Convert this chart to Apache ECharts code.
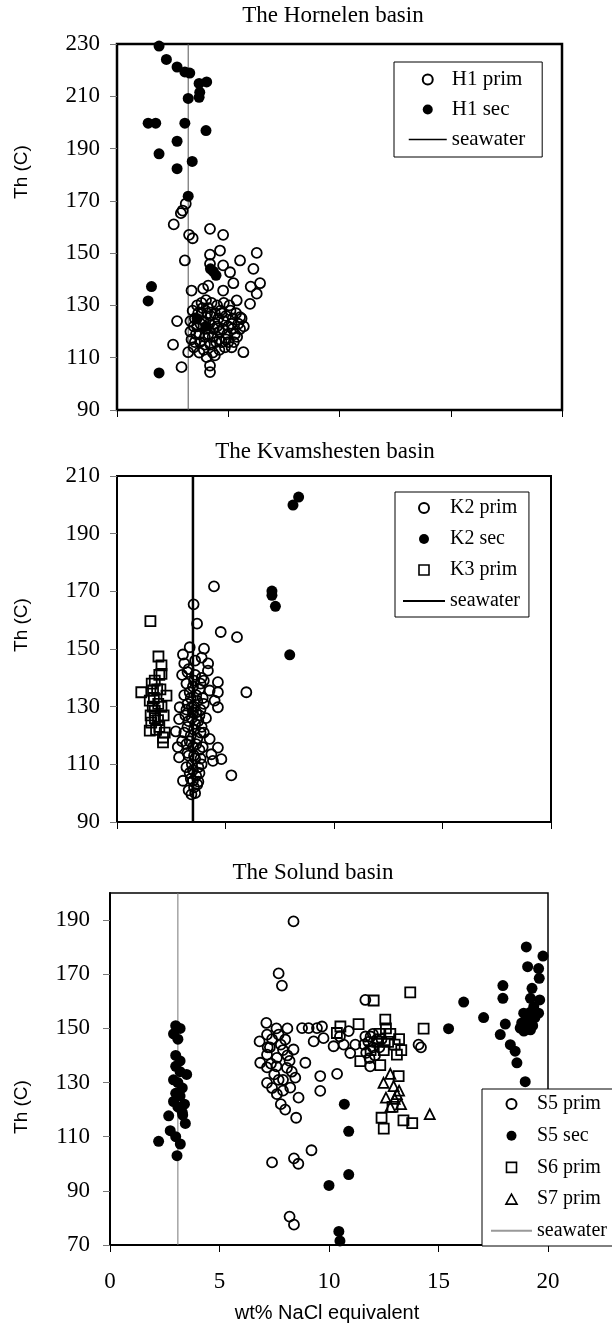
<!DOCTYPE html>
<html><head><meta charset="utf-8">
<script src="https://cdn.jsdelivr.net/npm/echarts@6/dist/echarts.min.js"></script>
<style>html,body{margin:0;padding:0;background:#fff}#c{width:612px;height:1325px}</style>
</head><body><div id="c"></div><script>
const SERIF = '"Liberation Serif","Times New Roman",serif';
const SANS = '"Liberation Sans",Arial,sans-serif';

// ---------- data (wt% NaCl eq, Th in C) ----------
const titles = ['The Hornelen basin', 'The Kvamshesten basin', 'The Solund basin'];
const xAxisName = 'wt% NaCl equivalent';
const yAxisName = 'Th (C)';
const xRange = [0, 20, 5];
const yRangeH = [90, 230, 20];
const yRangeK = [90, 210, 20];
const yRangeS = [70, 200, 20];
const seawaterH = 3.2, seawaterK = 3.5, seawaterS = 3.1;

const h1Prim = [[3.09,168.9],[2.95,166.3],[2.87,165.3],[2.55,161],[4.18,159.3],[4.77,157],[3.24,157],[3.4,155.7],[6.28,150.1],[4.63,151],[4.18,149.4],[3.05,147.2],[5.53,147.2],[6.13,144],[4.77,145.3],[5.08,142.7],[4.18,145.9],[6.43,138.5],[6.01,137.2],[5.23,138.5],[6.28,134.5],[5.98,130.6],[3.35,135.7],[3.87,136.4],[4.1,137.6],[4.77,135.7],[2.7,124],[2.52,115],[2.9,106.4],[5.68,112.1],[4.18,107],[4.18,104.5],[4.03,110.2],[4.4,110.9],[3.2,112.1],[3.73,116],[5.15,114],[5.53,121],[5.53,125.5],[5.38,131.9],
 [3.4,128],[3.5,125],[3.6,122],[3.7,119],[3.8,127],[3.9,124],[4.0,121],[4.1,129],[4.2,126],[4.3,118],[4.4,123],[4.5,130],[4.6,120],[4.7,127],[4.8,124],[4.9,117],[5.0,122],[5.1,128],[5.2,125],[5.3,119],[3.3,120],[3.5,116],[3.9,113],[4.2,115],[4.6,113],[5.0,116],[5.4,118],[3.6,130],[4.0,132],[4.4,127],[4.8,131],[5.2,121],[3.3,124],[4.1,119],[4.5,122],[4.9,126],[3.7,112],[4.3,112],[4.7,116],[5.6,125],[5.7,122],[3.45,114],[3.8,131],
 [3.35,117],[3.55,119],[3.75,123],[3.95,118],[4.15,123],[4.35,121],[4.55,125],[4.75,121],[4.95,119],[5.15,123],[5.35,127],[3.65,127],[3.85,129],[4.25,131],[4.65,128],[5.05,130],[3.95,115],[4.45,116],[4.85,114],[3.45,122],[4.05,127],[4.6,117],[5.25,116],[5.45,123]];
const h1Sec = [[1.89,229.2],[2.22,224.1],[2.7,221.2],[3.05,219.3],[3.27,218.9],[3.69,214.9],[4.03,215.5],[3.72,211.5],[3.69,209.6],[3.2,209.2],[1.4,199.7],[1.74,199.7],[3.05,199.7],[4.0,196.9],[2.7,192.8],[1.89,188],[3.38,185.1],[2.7,182.3],[3.2,171.8],[1.55,137.2],[1.4,131.7],[1.89,104.2],[4.33,143],[4.45,141.5],[4.2,144],[3.6,125],[4.0,122]];

const k2Prim = [[4.47,171.7],[3.53,165.5],[3.69,158.8],[4.78,155.9],[5.53,154.1],[4.01,150.1],[3.35,150.6],[3.04,148.1],[5.96,135],[5.27,106.2],[4.81,111.8],[4.42,111.2],[4.65,115.8],[4.65,129.8],[4.65,135],[4.65,138.5],[2.89,129.8],[2.86,125.7],[2.71,121.4],[2.86,112.4],[3.04,104.3],[3.43,99.6],[3.5,104.3],[4.35,113.5],[4.27,118.8],[4.19,142.5],[4.27,135.6],[4.5,132.1],
 [3.1,145],[3.3,143],[3.6,141],[3.9,140],[3.2,138],[3.5,137],[3.8,136],[4.0,139],[3.1,134],[3.4,133],[3.7,132],[4.0,131],[3.2,129],[3.5,128],[3.8,127],[3.3,125],[3.6,124],[3.9,123],[3.1,121],[3.4,120],[3.7,119],[4.0,121],[3.2,117],[3.5,116],[3.8,115],[3.3,113],[3.6,112],[3.9,110],[3.2,109],[3.5,108],[3.8,107],[3.4,105],[3.7,103],[3.3,101],[3.6,100],[4.1,126],[4.2,145],[3.0,141],[3.9,147],[3.6,146],[3.0,118],[2.8,116],[3.65,128],[3.45,130],[3.75,104],
 [3.25,142],[3.55,139],[3.85,138],[3.35,135],[3.65,134],[3.95,133],[3.25,131],[3.55,130],[3.85,129],[3.15,127],[3.45,126],[3.75,125],[3.25,123],[3.55,122],[3.85,121],[3.35,118],[3.65,117],[3.95,116],[3.25,114],[3.55,113],[3.85,112],[3.45,110],[3.75,109],[3.35,107],[3.65,106],[3.55,102]];
const k2Sec = [[8.11,199.9],[8.37,202.7],[7.14,170.1],[7.14,168.6],[7.3,164.8],[7.96,148]];
const k3Prim = [[1.54,159.7],[1.91,147.4],[2.05,144.3],[2.05,141.4],[1.74,139],[1.12,135],[2.28,133.8],[1.66,135.6],[1.51,132.1],[1.74,128.6],[2.05,129.9],[1.58,124.5],[1.89,125.3],[1.51,121.7],[2.12,119.3],[2.12,117.6],[1.9,131],[1.6,138],[2.0,136],[1.8,122],[2.2,121],[1.55,127],[1.95,141],[1.7,133],[1.85,136],[2.15,127],[1.65,130],[1.95,123],[1.75,126]];

const s5Prim = [[8.38,189.5],[7.7,170.3],[7.85,165.8],[7.14,152],[6.83,145.2],[7.17,147.7],[7.7,147.7],[8.0,145.9],[8.38,142.2],[8.92,137.3],[8.77,150.1],[9.07,150.1],[9.45,150.1],[9.68,150.7],[9.3,145.2],[9.75,146.4],[10.21,143.4],[10.67,144],[10.97,140.9],[9.6,132.4],[10.37,133.2],[9.6,126.9],[11.66,160.5],[7.17,140.3],[6.86,137.3],[7.17,135.6],[7.62,139.1],[8.08,135.4],[8.46,131.8],[8.23,128.1],[7.17,129.9],[7.62,125.7],[8.61,124.4],[11.66,147],[14.09,144],[14.2,143],[11.88,136],[11.8,145],[12.0,143],[12.2,146],[7.4,100.5],[8.4,102],[8.6,100],[9.2,105],[8.2,80.5],[8.4,77.5],[7.9,142],[8.2,138],[7.5,133],[7.9,131],[8.3,134],[7.4,128],[7.8,122],[8.0,120],[8.5,117],[7.3,143],[7.6,150],[8.1,150],[10.5,147],[10.9,149],[11.2,144],
 [11.7,141],[11.9,147],[12.1,140],[12.3,143],[11.6,144],[12.0,148],[12.4,146],[11.85,139],[7.4,146],[7.8,144],[7.2,143],[7.6,136],[8.1,140],[7.35,137],[7.9,127],[7.7,131]];
const s5Sec = [[3.0,151],[3.2,150],[2.9,148],[3.1,146],[3.0,140],[3.2,138],[3.0,136],[3.2,134],[3.5,133],[2.9,131],[3.1,130],[3.3,128],[3.0,126],[3.2,125],[2.9,123],[3.4,122],[3.1,121],[3.3,119],[2.68,117.7],[3.44,114.9],[3.32,118],[2.75,112.2],[2.22,108.3],[3.21,107.3],[3.06,103],[3.0,110],
 [10.7,122],[10.9,112],[10.9,96],[10.0,92],[10.45,75],[10.5,71.5],
 [19.01,180.1],[19.77,176.7],[19.07,172.8],[19.57,172.1],[19.6,168.5],[17.94,165.8],[19.27,164.8],[16.15,159.7],[17.94,161.1],[19.62,160.5],[19.2,161.1],[17.06,154],[19.57,155.6],[18.89,155.6],[15.46,149.9],[18.05,151.6],[18.73,150.1],[19.2,149.5],[17.82,147.7],[19.04,152.6],[19.35,158],[18.28,144],[18.5,141.6],[18.58,137.3],[18.96,130.3],[19.0,150],[19.1,153],[19.3,151],[18.9,149],[19.4,154],[19.2,156],[18.8,152]];
const s6Prim = [[13.71,163.3],[12.04,160.3],[11.35,151.6],[10.52,150.7],[10.36,148.3],[12.57,153.2],[12.6,150],[14.32,149.9],[11.43,137.9],[12.34,136.4],[13.1,140.3],[13.18,132.4],[13.2,146],[12.4,117],[12.5,113],[13.4,116],[13.8,115],[12.9,121],[12.2,145],[12.8,148],[13.0,144],[11.9,142],[12.5,142],[12.7,145],[12.3,148],[13.3,142]];
const s7Prim = [[12.8,133.2],[12.49,129.9],[12.95,128.7],[13.1,125.7],[12.6,124.4],[14.6,118.3],[13.29,122],[12.8,121],[13.0,124],[13.2,127]];

// ---------- chart ----------
const chart = echarts.init(document.getElementById('c'), null, {renderer: 'canvas'});

const openStyle = {color: 'rgba(255,255,255,0)', borderColor: '#000', borderWidth: 1.8, opacity: 1};
const fillStyle = {color: '#000', borderColor: '#000', borderWidth: 0, opacity: 1};
const hideDot = {color: 'rgba(0,0,0,0)', borderColor: 'rgba(0,0,0,0)', borderWidth: 0};
const squareIcon = 'path://M0,0H10V10H0Z';
const triangleIcon = 'path://M5,0L10,9H0Z';

function xAx(g, showLabel) {
  return {type: 'value', gridIndex: g, min: xRange[0], max: xRange[1], interval: xRange[2],
    axisLine: {show: true, onZero: false, lineStyle: {color: '#000', width: 2}},
    axisTick: {show: true, inside: false, length: 7, lineStyle: {color: '#000', width: 1}},
    axisLabel: {show: showLabel, fontFamily: SERIF, fontSize: 23, color: '#000', margin: 25},
    splitLine: {show: false}};
}
function yAx(g, r, margin) {
  return {type: 'value', gridIndex: g, min: r[0], max: r[1], interval: r[2],
    axisLine: {show: true, onZero: false, lineStyle: {color: '#000', width: 2}},
    axisTick: {show: true, inside: false, length: 7, lineStyle: {color: '#777', width: 1}},
    axisLabel: {show: true, fontFamily: SERIF, fontSize: 23, color: '#000', margin: margin, showMaxLabel: (r[1] - r[0]) % r[2] === 0},
    splitLine: {show: false}};
}
function legendCfg(left, top, padding, itemWidth, itemGap, fontSize, names, framed) {
  return {show: true, orient: 'vertical', left: left, top: top, padding: padding,
    itemWidth: itemWidth, itemHeight: 10, itemGap: itemGap, align: 'left', symbolKeepAspect: true,
    backgroundColor: framed ? '#fff' : 'rgba(0,0,0,0)', borderColor: '#000', borderWidth: framed ? 1 : 0, selectedMode: false,
    textStyle: {fontFamily: SERIF, fontSize: fontSize, color: '#000'}, z: 6,
    data: names};
}
function scat(name, g, data, symbol, size, style) {
  return {type: 'scatter', name: name, xAxisIndex: g, yAxisIndex: g, data: data, symbol: symbol,
    symbolSize: size, symbolKeepAspect: true, itemStyle: style, z: style === fillStyle ? 2 : 3,
    emphasis: {disabled: true}};
}
function seaLine(g, xv, r, color, width) {
  return {type: 'line', name: 'seawater', xAxisIndex: g, yAxisIndex: g, data: [[xv, r[0]], [xv, r[1]]],
    symbol: 'none', color: color, itemStyle: {color: color}, lineStyle: {color: color, width: width}, silent: true, z: 1};
}
const openIconStyle = {color: 'rgba(255,255,255,0)', borderColor: '#000', borderWidth: 1.6};

const option = {
  animation: false,
  backgroundColor: '#fff',
  grid: [
    {left: 117, top: 44, width: 445, height: 366, show: true, borderColor: '#000', borderWidth: 2.5, outerBoundsMode: 'none'},
    {left: 117, top: 476, width: 434, height: 346, show: true, borderColor: '#000', borderWidth: 2, outerBoundsMode: 'none'},
    {left: 110, top: 893, width: 438, height: 352, show: true, borderColor: '#000', borderWidth: 1.5, outerBoundsMode: 'none'}
  ],
  xAxis: [xAx(0, false), xAx(1, false), xAx(2, true)],
  yAxis: [yAx(0, yRangeH, 17), yAx(1, yRangeK, 17), yAx(2, yRangeS, 20)],
  legend: [
    legendCfg(394, 62, [7, 17, 7, 14], 38, 9, 21, ['H1 prim', 'H1 sec', {name: 'seawater', itemStyle: hideDot, lineStyle: {color: '#000', width: 1.5}}], true),
    legendCfg(395, 492, [6, 9, 6, 7], 42, 11, 20, ['K2 prim', 'K2 sec', {name: 'K3 prim', icon: squareIcon, itemStyle: openIconStyle}, {name: 'seawater', itemStyle: hideDot, lineStyle: {color: '#000', width: 2}}], true),
    legendCfg(482, 1089, [5, 20, 5, 8], 41, 11.7, 20, ['S5 prim', 'S5 sec', {name: 'S6 prim', icon: squareIcon, itemStyle: openIconStyle}, {name: 'S7 prim', icon: triangleIcon, itemStyle: openIconStyle}, {name: 'seawater', itemStyle: hideDot, lineStyle: {color: '#999', width: 2}}], false)
  ],
  graphic: [
    // frame of the Solund legend box, running off the right edge of the page
    {type: 'rect', z: 5, shape: {x: 482, y: 1089, width: 160, height: 157}, style: {fill: '#fff', stroke: '#000', lineWidth: 1}},
    {type: 'text', x: 333, y: 16, style: {text: titles[0], font: '23px ' + SERIF, fill: '#000', align: 'center', verticalAlign: 'middle'}},
    {type: 'text', x: 325, y: 452, style: {text: titles[1], font: '23px ' + SERIF, fill: '#000', align: 'center', verticalAlign: 'middle'}},
    {type: 'text', x: 313, y: 873, style: {text: titles[2], font: '23px ' + SERIF, fill: '#000', align: 'center', verticalAlign: 'middle'}},
    {type: 'text', x: 22, y: 172, rotation: Math.PI / 2, style: {text: yAxisName, font: '19px ' + SANS, fill: '#000', align: 'center', verticalAlign: 'middle'}},
    {type: 'text', x: 22, y: 625, rotation: Math.PI / 2, style: {text: yAxisName, font: '19px ' + SANS, fill: '#000', align: 'center', verticalAlign: 'middle'}},
    {type: 'text', x: 22, y: 1107, rotation: Math.PI / 2, style: {text: yAxisName, font: '19px ' + SANS, fill: '#000', align: 'center', verticalAlign: 'middle'}},
    {type: 'text', x: 327, y: 1313, style: {text: xAxisName, font: '20px ' + SANS, fill: '#000', align: 'center', verticalAlign: 'middle'}}
  ],
  series: [
    seaLine(0, seawaterH, yRangeH, '#555', 1),
    scat('H1 prim', 0, h1Prim, 'circle', 10, openStyle),
    scat('H1 sec', 0, h1Sec, 'circle', 11, fillStyle),

    seaLine(1, seawaterK, yRangeK, '#000', 2.5),
    scat('K2 prim', 1, k2Prim, 'circle', 10, openStyle),
    scat('K2 sec', 1, k2Sec, 'circle', 11, fillStyle),
    scat('K3 prim', 1, k3Prim, 'rect', 10, openStyle),

    seaLine(2, seawaterS, yRangeS, '#777', 1),
    scat('S5 prim', 2, s5Prim, 'circle', 10, openStyle),
    scat('S5 sec', 2, s5Sec, 'circle', 11, fillStyle),
    scat('S6 prim', 2, s6Prim, 'rect', 10, openStyle),
    scat('S7 prim', 2, s7Prim, 'triangle', 10, openStyle)
  ]
};
chart.setOption(option);
</script></body></html>
